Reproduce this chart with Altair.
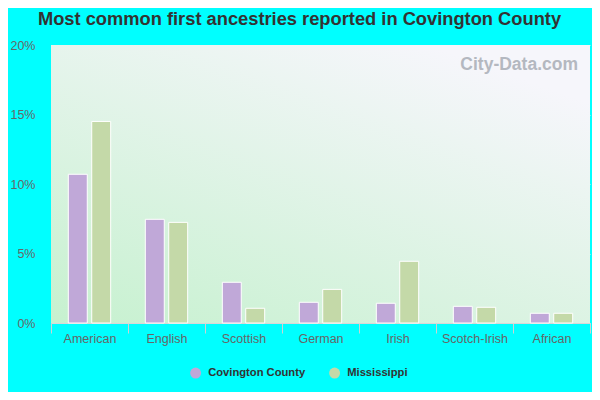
import altair as alt
import pandas as pd

categories = ["American", "English", "Scottish", "German", "Irish", "Scotch-Irish", "African"]
county = [10.7, 7.46, 2.93, 1.49, 1.42, 1.2, 0.70]
state = [14.5, 7.24, 1.06, 2.42, 4.44, 1.13, 0.70]
series = ["Covington County", "Mississippi"]
colors = ["#c0a8d8", "#c4d9a8"]
title = "Most common first ancestries reported in Covington County"

rows = []
for c, a, b in zip(categories, county, state):
    rows.append({"ancestry": c, "group": series[0], "value": a / 100})
    rows.append({"ancestry": c, "group": series[1], "value": b / 100})
df = pd.DataFrame(rows)

W, H = 539, 278

bg = alt.Chart(pd.DataFrame({"a": [0]})).mark_rect(
    fill=alt.Gradient(
        gradient="linear",
        x1=0, y1=1, x2=0.7, y2=0,
        stops=[alt.GradientStop(offset=0, color="#c6f1cf"),
               alt.GradientStop(offset=1, color="#f6f6fb")],
    )
).encode(x=alt.value(0), x2=alt.value(W), y=alt.value(0), y2=alt.value(H))

bars = alt.Chart(df).mark_bar(stroke="white", strokeWidth=1).encode(
    x=alt.X("ancestry:N", sort=categories, title=None,
            scale=alt.Scale(paddingInner=0, paddingOuter=0),
            axis=alt.Axis(labelAngle=0, tickBand="extent", tickSize=10, tickColor="#d0d0d0",
                          domainColor="#d8d8d8", labelColor="#666666", labelFontSize=12.5,
                          labelFont="Liberation Sans", labelPadding=-1, grid=False)),
    xOffset=alt.XOffset("group:N", sort=series,
                        scale=alt.Scale(paddingInner=0.19, paddingOuter=0.74)),
    y=alt.Y("value:Q", title=None,
            scale=alt.Scale(domain=[0, 0.2]),
            axis=alt.Axis(values=[0, 0.05, 0.1, 0.15, 0.2], format=".0%", ticks=False, domain=False,
                          gridColor="#e6e6e6", labelColor="#666666", labelFontSize=12.5,
                          labelFont="Liberation Sans", labelPadding=16)),
    color=alt.Color("group:N", sort=series,
                    scale=alt.Scale(domain=series, range=colors),
                    legend=alt.Legend(title=None, orient="none", direction="horizontal",
                                      legendX=139, legendY=322, symbolType="circle",
                                      symbolSize=120, symbolStrokeWidth=0, labelFontSize=11.2,
                                      labelFontWeight="bold", labelColor="#333333",
                                      labelFont="Liberation Sans", labelOffset=7,
                                      columnPadding=23)),
)

wm = alt.Chart(pd.DataFrame({"t": ["City-Data.com"]})).mark_text(
    fontSize=17.5, fontWeight="bold", color="#b4b8c0", font="Liberation Sans", align="right"
).encode(x=alt.value(527), y=alt.value(20), text="t:N")

chart = alt.layer(bg, bars, wm).properties(
    width=W, height=H,
    background="#00ffff",
    padding={"left": 43, "top": 37, "right": 2, "bottom": 69},
    autosize=alt.AutoSizeParams(type="none"),
    title=alt.TitleParams(title, fontSize=18.3, fontWeight="bold", color="#333333",
                          font="Liberation Sans", anchor="middle", dx=-21, offset=10),
).configure_view(strokeWidth=0)

chart.save("out.html", embed_options={"renderer": "svg", "actions": False})
